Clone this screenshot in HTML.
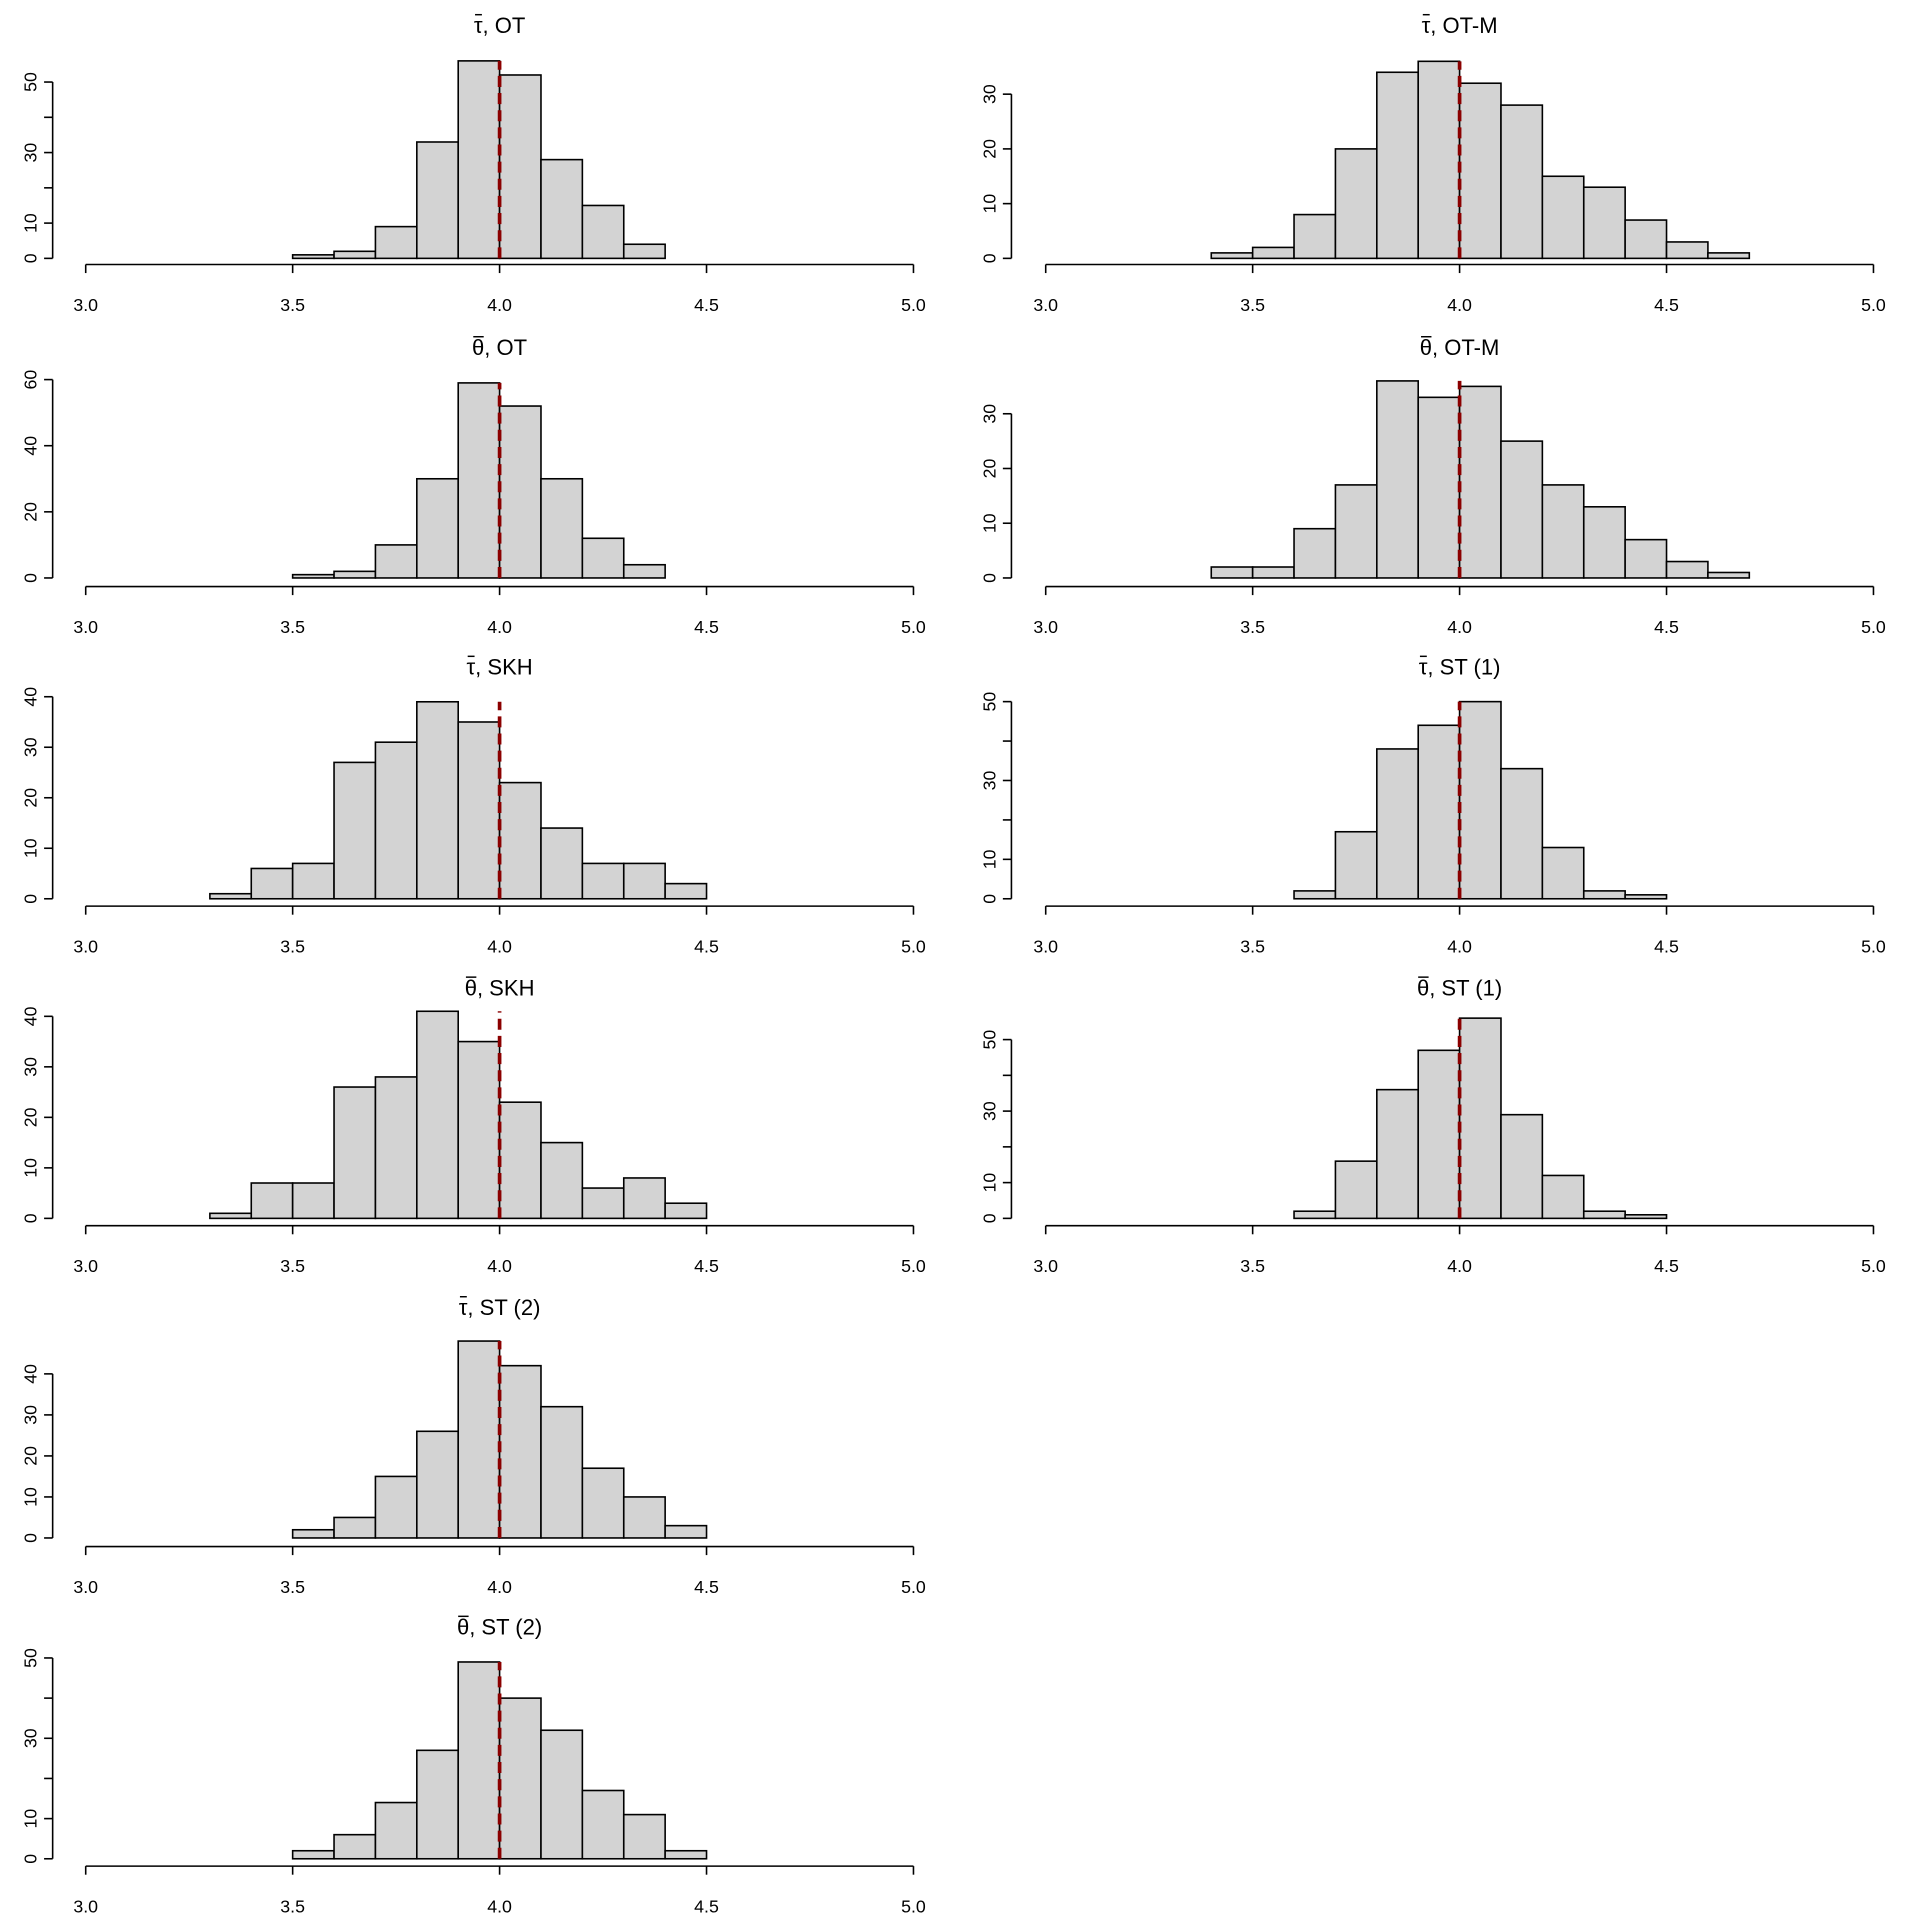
<!DOCTYPE html>
<html><head><meta charset="utf-8"><style>html,body{margin:0;padding:0;background:#fff}svg{display:block}</style></head>
<body>
<svg id="s" xmlns="http://www.w3.org/2000/svg" width="1920" height="1920" viewBox="0 0 1568 1568" font-family="Liberation Sans, Arial, sans-serif"></svg>
<script>
const S=document.getElementById('s');
function el(t,a,txt){const e=document.createElementNS('http://www.w3.org/2000/svg',t);for(const k in a)e.setAttribute(k,a[k]);if(txt!==undefined)e.textContent=txt;S.appendChild(e);return e;}
const panels=[
 {c:0,r:0,t:'τ, OT',start:3.5,counts:[1,2,9,33,56,52,28,15,4],y0:211,ppu:2.88,ticks:[0,10,20,30,40,50],lab:[0,10,30,50]},
 {c:1,r:0,t:'τ, OT-M',start:3.4,counts:[1,2,8,20,34,36,32,28,15,13,7,3,1],y0:211,ppu:4.47,ticks:[0,10,20,30],lab:[0,10,20,30]},
 {c:0,r:1,t:'θ, OT',start:3.5,counts:[1,2,10,30,59,52,30,12,4],y0:472,ppu:2.7,ticks:[0,20,40,60],lab:[0,20,40,60]},
 {c:1,r:1,t:'θ, OT-M',start:3.4,counts:[2,2,9,17,36,33,35,25,17,13,7,3,1],y0:472,ppu:4.47,ticks:[0,10,20,30],lab:[0,10,20,30]},
 {c:0,r:2,t:'τ, SKH',start:3.3,counts:[1,6,7,27,31,39,35,23,14,7,7,3],y0:734,ppu:4.125,ticks:[0,10,20,30,40],lab:[0,10,20,30,40]},
 {c:1,r:2,t:'τ, ST (1)',start:3.6,counts:[2,17,38,44,50,33,13,2,1],y0:734,ppu:3.22,ticks:[0,10,20,30,40,50],lab:[0,10,30,50]},
 {c:0,r:3,t:'θ, SKH',start:3.3,counts:[1,7,7,26,28,41,35,23,15,6,8,3],y0:995,ppu:4.125,ticks:[0,10,20,30,40],lab:[0,10,20,30,40]},
 {c:1,r:3,t:'θ, ST (1)',start:3.6,counts:[2,16,36,47,56,29,12,2,1],y0:995,ppu:2.92,ticks:[0,10,20,30,40,50],lab:[0,10,30,50]},
 {c:0,r:4,t:'τ, ST (2)',start:3.5,counts:[2,5,15,26,48,42,32,17,10,3],y0:1256,ppu:3.35,ticks:[0,10,20,30,40],lab:[0,10,20,30,40]},
 {c:0,r:5,t:'θ, ST (2)',start:3.5,counts:[2,6,14,27,49,40,32,17,11,2],y0:1518,ppu:3.28,ticks:[0,10,20,30,40,50],lab:[0,10,30,50]},
];
const axY=[216,479,740,1001,1263,1524], titY=[27,290,551,813,1074,1335];
panels.forEach(p=>{
 const x0=p.c?854:70, sc=338, yx=p.c?826:43, ax=axY[p.r];
 const X=v=>x0+(v-3)*sc;
 const top=p.y0-Math.max(...p.counts)*p.ppu;
 p.counts.forEach((n,i)=>{if(!n)return;const a=X(p.start+i*0.1),b=X(p.start+(i+1)*0.1);
  el('rect',{x:a,y:p.y0-n*p.ppu,width:b-a,height:n*p.ppu,fill:'#d3d3d3',stroke:'#000','stroke-width':1.3});});
 el('line',{x1:X(4),x2:X(4),y1:p.y0,y2:top,stroke:'#8b0000','stroke-width':3,'stroke-dasharray':'9,5'});
 el('line',{x1:X(3),x2:X(5),y1:ax,y2:ax,stroke:'#000','stroke-width':1.3});
 [3,3.5,4,4.5,5].forEach(v=>{el('line',{x1:X(v),x2:X(v),y1:ax,y2:ax+7,stroke:'#000','stroke-width':1.3});
  el('text',{x:X(v),y:ax+38,'font-size':14.5,'text-anchor':'middle'},v.toFixed(1));});
 const tk=p.ticks;
 el('line',{x1:yx,x2:yx,y1:p.y0,y2:p.y0-tk[tk.length-1]*p.ppu,stroke:'#000','stroke-width':1.3});
 tk.forEach(v=>{const y=p.y0-v*p.ppu;el('line',{x1:yx,x2:yx-7,y1:y,y2:y,stroke:'#000','stroke-width':1.3});
  if(p.lab.includes(v))el('text',{x:0,y:0,'font-size':14.5,'text-anchor':'middle',transform:`translate(${yx-13},${y}) rotate(-90)`},String(v));});
 const t=el('text',{x:X(4),y:titY[p.r],'font-size':18,'text-anchor':'middle'},p.t);
 try{const b=t.getExtentOfChar(0);
  el('line',{x1:b.x+1,x2:b.x+b.width-0.5,y1:titY[p.r]-15,y2:titY[p.r]-15,stroke:'#000','stroke-width':1.2});}catch(e){}
});
</script>
</body></html>
